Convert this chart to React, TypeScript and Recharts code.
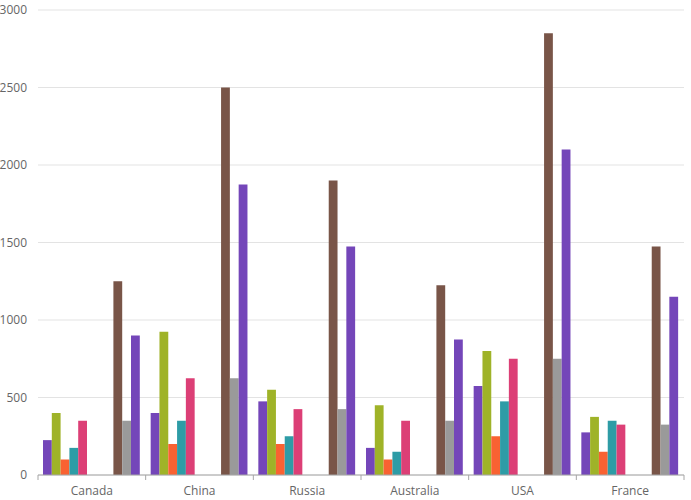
import { BarChart, Bar, XAxis, YAxis, CartesianGrid } from 'recharts';

const countries = ['Canada', 'China', 'Russia', 'Australia', 'USA', 'France'];
const yTicks = [0, 500, 1000, 1500, 2000, 2500, 3000];

const seriesA = [225, 400, 475, 175, 575, 275];
const seriesB = [400, 925, 550, 450, 800, 375];
const seriesC = [100, 200, 200, 100, 250, 150];
const seriesD = [175, 350, 250, 150, 475, 350];
const seriesE = [350, 625, 425, 350, 750, 325];
const seriesF: (number | null)[] = [null, null, null, null, null, null];
const seriesG: (number | null)[] = [null, null, null, null, null, null];
const seriesH: (number | null)[] = [null, null, null, null, null, null];
const seriesI = [1250, 2500, 1900, 1225, 2850, 1475];
const seriesJ = [350, 625, 425, 350, 750, 325];
const seriesK = [900, 1875, 1475, 875, 2100, 1150];

const series = [
  { key: 'a', values: seriesA, color: '#7446B9' },
  { key: 'b', values: seriesB, color: '#9FB328' },
  { key: 'c', values: seriesC, color: '#F96232' },
  { key: 'd', values: seriesD, color: '#2E9CA6' },
  { key: 'e', values: seriesE, color: '#DC3F76' },
  { key: 'f', values: seriesF, color: '#FF9800' },
  { key: 'g', values: seriesG, color: '#3F51B5' },
  { key: 'h', values: seriesH, color: '#439C47' },
  { key: 'i', values: seriesI, color: '#795548' },
  { key: 'j', values: seriesJ, color: '#9A9A9A' },
  { key: 'k', values: seriesK, color: '#7446B9' },
];

const WIDTH = 691;
const HEIGHT = 500;
const MARGIN = { top: 10, right: 7, bottom: 0, left: 0 };
const Y_WIDTH = 38;
const BAND = (WIDTH - MARGIN.left - MARGIN.right - Y_WIDTH) / countries.length;

const FONT = '"Open Sans", "Noto Sans", sans-serif';

const CountryTick = (props: any) => {
  const { x, y, payload, index } = props;
  const left = x - BAND / 2;
  return (
    <g>
      <line x1={left} y1={y} x2={left} y2={y + 5} stroke="#a6a6a6" />
      {index === countries.length - 1 && (
        <line x1={x + BAND / 2} y1={y} x2={x + BAND / 2} y2={y + 5} stroke="#a6a6a6" />
      )}
      <text
        x={x}
        y={y + 20}
        textAnchor="middle"
        fontSize={12}
        fontFamily={FONT}
        fill="#666666"
      >
        {payload.value}
      </text>
    </g>
  );
};

const App = () => {
  const data = countries.map((country, i) => {
    const row: Record<string, string | number | null> = { country };
    series.forEach((s) => {
      row[s.key] = s.values[i];
    });
    return row;
  });

  return (
    <div style={{ position: 'absolute', left: 0, top: 0, width: WIDTH, height: HEIGHT }}>
      <BarChart
        width={WIDTH}
        height={HEIGHT}
        data={data}
        margin={MARGIN}
        barGap={0}
        barSize={8.8}
      >
        <CartesianGrid vertical={false} stroke="#e3e3e3" />
        <XAxis
          dataKey="country"
          height={25}
          axisLine={{ stroke: '#a6a6a6' }}
          tickLine={false}
          tickSize={0}
          tickMargin={0}
          tick={<CountryTick />}
          interval={0}
        />
        <YAxis
          width={Y_WIDTH}
          domain={[0, 3000]}
          ticks={yTicks}
          axisLine={false}
          tickLine={false}
          tickMargin={5}
          tick={{ fontSize: 12, fontFamily: FONT, fill: '#666666' }}
        />
        {series.map((s) => (
          <Bar
            key={s.key}
            dataKey={s.key}
            fill={s.color}
            isAnimationActive={false}
          />
        ))}
      </BarChart>
    </div>
  );
};

export default App;
